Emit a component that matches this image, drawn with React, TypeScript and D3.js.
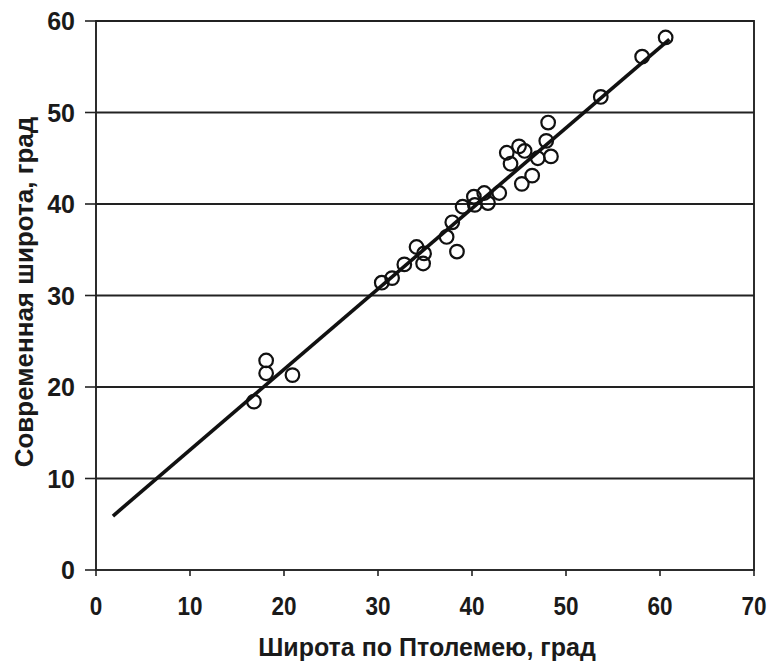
import React from "react";
import * as d3 from "d3";

const ptolemyLat = [16.8, 18.1, 18.1, 20.9, 30.4, 31.5, 32.8, 34.1, 34.9, 34.8, 37.3, 37.9, 38.4, 39.0, 40.3, 40.2, 41.3, 41.7, 42.9, 43.7, 44.1, 45.0, 45.6, 45.3, 46.4, 47.0, 47.9, 48.1, 48.4, 53.7, 58.1, 60.6];
const modernLat = [18.4, 22.9, 21.5, 21.3, 31.4, 31.9, 33.4, 35.3, 34.6, 33.5, 36.4, 38.0, 34.8, 39.7, 39.9, 40.8, 41.2, 40.1, 41.2, 45.6, 44.4, 46.3, 45.8, 42.2, 43.1, 45.0, 46.9, 48.9, 45.2, 51.7, 56.1, 58.2];
const trendX = [1.8, 61.0];
const trendY = [5.9, 58.0];
const xTicks = [0, 10, 20, 30, 40, 50, 60, 70];
const yTicks = [0, 10, 20, 30, 40, 50, 60];
const xTitle = "Широта по Птолемею, град";
const yTitle = "Современная широта, град";

const W = 771, H = 666;
const L = 96, R = 754, T = 21, B = 570;
const font = "'Liberation Sans', Arial, sans-serif";

export default function App() {
  const x = d3.scaleLinear().domain([0, 70]).range([L, R]);
  const y = d3.scaleLinear().domain([0, 60]).range([B, T]);
  const line = d3.line<number>().x((_, i) => x(trendX[i])).y((_, i) => y(trendY[i]));
  return (
    <svg width={W} height={H} style={{ position: "absolute", left: 0, top: 0, background: "#fff" }}>
      {yTicks.filter(v => v > 0).map(v => (
        <line key={"g" + v} x1={L} x2={R} y1={y(v)} y2={y(v)} stroke="#222" strokeWidth={1.9} />
      ))}
      <rect x={L} y={T} width={R - L} height={B - T} fill="none" stroke="#222" strokeWidth={1.9} />
      {yTicks.map(v => (
        <g key={"y" + v}>
          <line x1={L - 11} x2={L} y1={y(v)} y2={y(v)} stroke="#222" strokeWidth={1.6} />
          <text x={L - 21} y={y(v)} dy="0.36em" textAnchor="end" fontFamily={font} fontWeight="bold" fontSize={25} fill="#1a1a1a">{v}</text>
        </g>
      ))}
      {xTicks.map(v => (
        <g key={"x" + v}>
          <line x1={x(v)} x2={x(v)} y1={B} y2={B + 6} stroke="#222" strokeWidth={1.6} />
          <text x={x(v)} y={B + 45} textAnchor="middle" fontFamily={font} fontWeight="bold" fontSize={25} fill="#1a1a1a"
            transform={`translate(${x(v)},0) scale(0.9,1) translate(${-x(v)},0)`}>{v}</text>
        </g>
      ))}
      <path d={line(trendX) || ""} fill="none" stroke="#111" strokeWidth={3.6} />
      {ptolemyLat.map((px, i) => (
        <circle key={"p" + i} cx={x(px)} cy={y(modernLat[i])} r={6.8} fill="none" stroke="#111" strokeWidth={2.2} />
      ))}
      <text x={427} y={656} textAnchor="middle" fontFamily={font} fontWeight="bold" fontSize={25} fill="#1a1a1a">{xTitle}</text>
      <text transform={`translate(33,292) rotate(-90)`} textAnchor="middle" fontFamily={font} fontWeight="bold" fontSize={26} fill="#1a1a1a">{yTitle}</text>
    </svg>
  );
}
